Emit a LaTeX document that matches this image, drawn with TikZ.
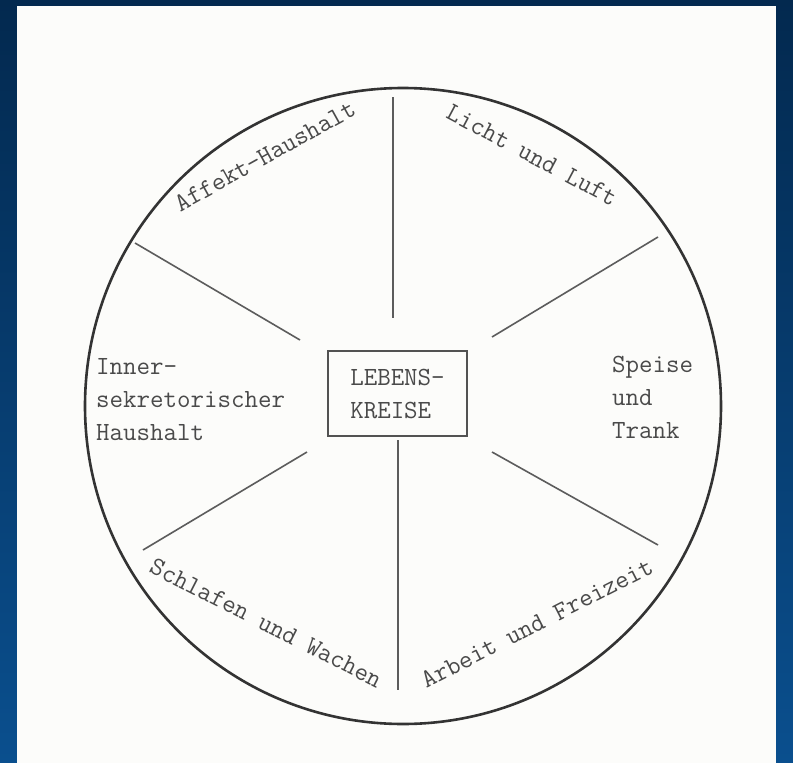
\documentclass[tikz,border=0pt]{standalone}
\usepackage{fontspec}
\usetikzlibrary{positioning}
\definecolor{frametop}{HTML}{03294F}
\definecolor{framebot}{HTML}{0A4F8E}
\definecolor{paper}{HTML}{FCFCFA}
\definecolor{ink}{HTML}{333333}
\definecolor{typeink}{HTML}{4A4A4A}

\begin{document}
\begin{tikzpicture}[x=1pt, y=-1pt,
    every node/.style={font=\ttfamily\fontsize{26.2}{33}\selectfont, text=typeink, inner sep=0pt},
    rim/.style={draw=ink, line width=2.6pt},
    spoke/.style={draw=ink!80, line width=1.6pt},
    sector/.style={align=left, anchor=west},
    rimtext/.style={anchor=center},
    hub/.style={draw=ink!85, line width=1.4pt, minimum width=139pt, minimum height=85pt, align=left}]
  % frame and paper
  \shade[top color=frametop, bottom color=framebot] (0,0) rectangle (793,763);
  \fill[paper] (17,6) rectangle (776,763);
  \useasboundingbox (0,0) rectangle (793,763);
  % the circle and its six spokes
  \coordinate (mitte) at (403,406);
  \draw[rim] (mitte) circle[radius=318];
  \draw[spoke] (393,97) -- (393,318);
  \draw[spoke] (398,440) -- (398,690);
  \draw[spoke] (135,243) -- (300,340);
  \draw[spoke] (658,237) -- (492,337);
  \draw[spoke] (143,550) -- (307,452);
  \draw[spoke] (658,545) -- (492,452);
  % centre
  \node[hub] (kreise) at (397.5,393.5) {LEBENS-\\KREISE};
  % sectors
  \node[rimtext, rotate=29] (affekt) at (265,156) {Affekt-Haushalt};
  \node[rimtext, rotate=-28] (licht) at (532,155) {Licht und Luft};
  \node[sector] (inner) at (96,400) {Inner-\\sekretorischer\\Haushalt};
  \node[sector] (speise) at (612,397) {Speise\\und\\Trank};
  \node[rimtext, rotate=-27] (schlaf) at (266,623) {Schlafen und Wachen};
  \node[rimtext, rotate=27] (arbeit) at (537,623) {Arbeit und Freizeit};
\end{tikzpicture}
\end{document}
